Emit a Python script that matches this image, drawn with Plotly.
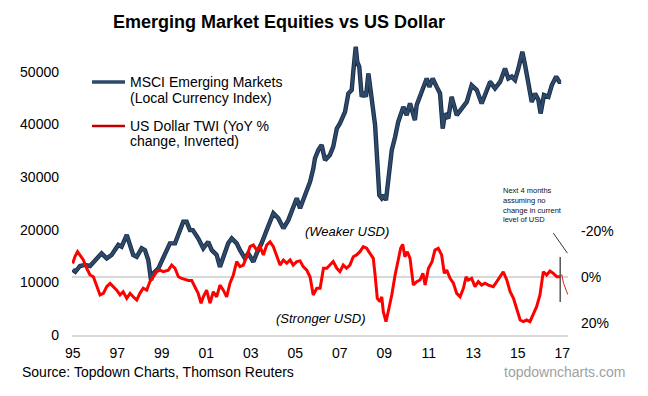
import plotly.graph_objects as go

# MSCI Emerging Markets (Local Currency Index) - decimal year, index level
em_years = [1995.00, 1995.12, 1995.33, 1995.55, 1995.78, 1996.00, 1996.30, 1996.53, 1996.75,
            1997.05, 1997.20, 1997.43, 1997.58, 1997.72, 1997.88, 1998.10, 1998.25, 1998.40,
            1998.52, 1998.62, 1998.85, 1999.15, 1999.37, 1999.60, 1999.82, 1999.97, 2000.12,
            2000.27, 2000.40, 2000.64, 2000.87, 2001.09, 2001.25, 2001.47, 2001.62, 2001.77,
            2001.99, 2002.15, 2002.37, 2002.52, 2002.74, 2002.89, 2003.12, 2003.27, 2003.49,
            2003.72, 2004.02, 2004.24, 2004.47, 2004.69, 2004.91, 2005.07, 2005.22, 2005.44,
            2005.67, 2005.81, 2005.89, 2006.04, 2006.19, 2006.34, 2006.56, 2006.71, 2006.87,
            2007.01, 2007.24, 2007.39, 2007.54, 2007.61, 2007.72, 2007.79, 2007.88, 2007.99,
            2008.09, 2008.18, 2008.29, 2008.36, 2008.48, 2008.59, 2008.69, 2008.78, 2008.89,
            2008.99, 2009.08, 2009.18, 2009.34, 2009.49, 2009.63, 2009.86, 2010.01, 2010.16,
            2010.38, 2010.46, 2010.69, 2010.91, 2011.03, 2011.18, 2011.36, 2011.51, 2011.63,
            2011.73, 2011.88, 2012.03, 2012.26, 2012.48, 2012.71, 2012.93, 2013.16, 2013.38,
            2013.61, 2013.76, 2013.98, 2014.21, 2014.43, 2014.58, 2014.73, 2014.88, 2015.03,
            2015.21, 2015.33, 2015.48, 2015.63, 2015.78, 2015.93, 2016.03, 2016.18, 2016.38,
            2016.53, 2016.73, 2016.87, 2016.95]
em_values = [12400, 12000, 13100, 13300, 13100, 14200, 15500, 14550, 15200,
             17100, 16750, 19000, 17100, 15200, 14850, 16450, 16100, 14200,
             10450, 11700, 12650, 15500, 17400, 17400, 19900, 21500, 21500,
             19900, 19900, 18350, 16450, 17700, 16100, 15200, 12950, 14850,
             17400, 18350, 17400, 16100, 14550, 15500, 13900, 15500, 17400,
             19900, 23100, 22150, 20250, 21800, 24050, 25950, 24050, 26550,
             29100, 31500, 33550, 35100, 36050, 33200, 34150, 35750, 39200,
             40150, 42350, 45850, 46500, 50000, 54700, 51850, 50900, 45200,
             46150, 45200, 49650, 47400, 43000, 39850, 32900, 26550, 25950,
             26550, 25600, 29750, 35100, 37600, 40450, 43300, 41750, 43950,
             40800, 43650, 46500, 48700, 47100, 48700, 47100, 45850, 39200,
             42050, 41100, 45200, 41750, 43000, 44250, 47400, 46500, 43950,
             46800, 48050, 46800, 48050, 50600, 48700, 49050, 48400, 50600,
             53750, 51250, 47400, 44250, 45850, 44600, 42050, 45550, 45200,
             47400, 49050, 48050, 48050]

# US Dollar TWI, YoY % change (plotted on an inverted axis)
usd_years = [1995.00, 1995.10, 1995.22, 1995.33, 1995.48, 1995.63, 1995.78, 1995.93, 1996.08,
             1996.23, 1996.38, 1996.53, 1996.68, 1996.82, 1996.98, 1997.13, 1997.27, 1997.43,
             1997.58, 1997.72, 1997.88, 1998.02, 1998.17, 1998.33, 1998.47, 1998.62, 1998.78,
             1998.92, 1999.07, 1999.30, 1999.45, 1999.60, 1999.75, 1999.90, 2000.05, 2000.20,
             2000.35, 2000.50, 2000.64, 2000.77, 2000.87, 2001.02, 2001.17, 2001.32, 2001.47,
             2001.62, 2001.77, 2001.92, 2002.07, 2002.22, 2002.37, 2002.52, 2002.67, 2002.82,
             2002.97, 2003.12, 2003.27, 2003.42, 2003.57, 2003.72, 2003.87, 2004.02, 2004.17,
             2004.32, 2004.47, 2004.62, 2004.77, 2004.91, 2005.07, 2005.22, 2005.36, 2005.52,
             2005.67, 2005.81, 2005.97, 2006.12, 2006.27, 2006.42, 2006.56, 2006.71, 2006.87,
             2007.01, 2007.16, 2007.31, 2007.46, 2007.61, 2007.76, 2007.91, 2008.06, 2008.21,
             2008.36, 2008.51, 2008.59, 2008.69, 2008.81, 2008.89, 2008.96, 2009.08, 2009.18,
             2009.34, 2009.49, 2009.63, 2009.74, 2009.83, 2009.93, 2010.04, 2010.16, 2010.31,
             2010.46, 2010.61, 2010.74, 2010.84, 2010.99, 2011.15, 2011.28, 2011.43, 2011.58,
             2011.70, 2011.81, 2011.96, 2012.11, 2012.26, 2012.41, 2012.56, 2012.68, 2012.78,
             2012.93, 2013.08, 2013.23, 2013.38, 2013.53, 2013.68, 2013.90, 2014.06, 2014.21,
             2014.35, 2014.51, 2014.66, 2014.81, 2014.96, 2015.11, 2015.25, 2015.40, 2015.55,
             2015.70, 2015.85, 2016.00, 2016.15, 2016.30, 2016.45, 2016.60, 2016.76, 2016.91]
usd_yoy = [-5.9, -8.8, -11.0, -9.6, -7.4, -3.8, -0.9, -0.1, 4.2,
           7.8, 7.1, 4.2, 2.8, 4.2, 5.7, 7.8, 6.4, 9.3,
           7.1, 8.6, 10.0, 7.1, 4.9, 5.7, 2.0, -0.1, -2.3,
           -3.0, -2.3, -3.0, -5.2, -3.8, -0.1, 0.6, 1.0, 1.5,
           1.5, 4.5, 7.1, 11.4, 8.6, 5.7, 11.4, 6.4, 8.6,
           3.5, 5.7, 8.6, 2.7, -0.9, -6.7, -4.5, -5.2, -8.8,
           -13.2, -13.9, -11.7, -13.2, -9.6, -13.9, -15.3, -13.2, -8.8,
           -5.2, -7.4, -6.0, -7.4, -5.2, -6.7, -7.0, -4.5, -3.0,
           0.0, 7.8, 4.9, 4.9, -3.8, -3.8, -5.2, -6.7, -3.8,
           -2.3, -5.2, -3.8, -5.2, -8.8, -9.6, -11.0, -13.2, -12.5,
           -10.3, -8.1, -0.9, 9.3, 10.7, 8.6, 15.1, 19.4, 15.1,
           7.8, -0.9, -7.5, -12.5, -14.2, -8.8, -11.0, -8.1, 3.5,
           2.0, 1.3, -1.6, 3.5, -3.8, -6.7, -11.7, -12.5, -9.6,
           -1.6, -3.0, 0.6, 2.7, 7.1, 8.6, 4.9, -0.1, 1.3,
           0.6, 4.2, 2.0, 3.5, 2.7, 3.5, 4.2, 2.0, -0.1,
           -2.3, 1.3, 6.4, 9.3, 13.6, 18.7, 19.4, 18.7, 19.4,
           16.5, 12.9, 7.8, -2.3, -0.9, -2.6, -1.6, -0.1, -0.1]

# Projection: next 4 months assuming no change in current USD level
proj_years = [2016.91, 2016.98, 2017.06, 2017.25]
proj_yoy = [-0.1, -1.0, 2.7, 7.6]

year_ticks = [1995, 1997, 1999, 2001, 2003, 2005, 2007, 2009, 2011, 2013, 2015, 2017]
year_labels = ['95', '97', '99', '01', '03', '05', '07', '09', '11', '13', '15', '17']
left_ticks = [0, 10000, 20000, 30000, 40000, 50000]
right_ticks = [-20, 0, 20]
right_labels = ['-20%', '0%', '20%']

FONT = 'Liberation Sans, Arial, sans-serif'
BLUE = '#2d4a6d'
BLUE_EDGE = '#1b2c43'
RED = '#ff0000'

# the page body adds an 8px offset; the layout compensates for it
OFF = 8

fig = go.Figure()
fig.add_trace(go.Scatter(x=em_years, y=em_values, mode='lines', yaxis='y',
                         line=dict(color=BLUE_EDGE, width=4.4), showlegend=False, hoverinfo='skip'))
fig.add_trace(go.Scatter(x=em_years, y=em_values, mode='lines', yaxis='y',
                         name='MSCI Emerging Markets (Local Currency Index)',
                         line=dict(color=BLUE, width=2.6), showlegend=False))
fig.add_trace(go.Scatter(x=usd_years, y=usd_yoy, mode='lines', yaxis='y2',
                         name='US Dollar TWI (YoY % change, Inverted)',
                         line=dict(color=RED, width=3), showlegend=False))
fig.add_trace(go.Scatter(x=proj_years, y=proj_yoy, mode='lines', yaxis='y2',
                         line=dict(color='#e02020', width=1), showlegend=False))

fig.update_layout(
    width=648, height=396,
    margin=dict(l=72 - OFF, r=80 + OFF, t=40 - OFF, b=61 + OFF),
    paper_bgcolor='white', plot_bgcolor='white',
    font=dict(family=FONT, size=14, color='#000000'),
    title=dict(text='<b>Emerging Market Equities vs US Dollar</b>', xref='container', yref='container',
               x=(279 - OFF) / 648, xanchor='center', y=1 - (22 - OFF) / 396, yanchor='middle',
               font=dict(family=FONT, size=18, color='#000000')),
    xaxis=dict(range=[1994.97, 2017.26], tickvals=year_ticks, ticktext=year_labels,
               showgrid=False, zeroline=False, showline=True, linecolor='#d9d9d9', linewidth=2,
               ticks='', ticklabelstandoff=4, tickfont=dict(size=14)),
    yaxis=dict(range=[0, 56000], tickvals=left_ticks, tickformat='d', showgrid=False, zeroline=False,
               showline=False, ticks='', ticklabelstandoff=12, tickfont=dict(size=14)),
    yaxis2=dict(range=[25.2, -103.0], overlaying='y', side='right', tickvals=right_ticks,
                ticktext=right_labels, showgrid=False, zeroline=True, zerolinecolor='#d9d9d9',
                zerolinewidth=2, showline=False, ticks='', ticklabelstandoff=12,
                tickfont=dict(size=14)),
)

# legend (drawn manually to match layout)
fig.add_shape(type='line', xref='paper', yref='paper', x0=0.0403, x1=0.1069, y0=0.8576, y1=0.8576,
              line=dict(color=BLUE, width=3.5))
fig.add_shape(type='line', xref='paper', yref='paper', x0=0.0403, x1=0.1069, y0=0.7085, y1=0.7085,
              line=dict(color='#c00000', width=2.5))
legend_lines = [('MSCI Emerging Markets', 0.8576), ('(Local Currency Index)', 0.8034),
                ('US Dollar TWI (YoY %', 0.7085), ('change, Inverted)', 0.6576)]
for txt, yy in legend_lines:
    fig.add_annotation(text=txt, xref='paper', yref='paper', x=0.1129, y=yy, xanchor='left',
                       yanchor='middle', showarrow=False, font=dict(size=14))

fig.add_annotation(text='<i>(Weaker USD)</i>', xref='paper', yref='paper', x=0.5544, y=0.3492,
                   xanchor='center', yanchor='middle', showarrow=False, font=dict(size=13))
fig.add_annotation(text='<i>(Stronger USD)</i>', xref='paper', yref='paper', x=0.5030, y=0.0576,
                   xanchor='center', yanchor='middle', showarrow=False, font=dict(size=13))
fig.add_annotation(text='Next 4 months<br>assuming no<br>change in current<br>level of USD',
                   xref='paper', yref='paper', x=0.8649, y=0.4390, xanchor='left', yanchor='middle',
                   align='left', showarrow=False, font=dict(size=7.5, color='#111111'))
fig.add_annotation(text='Source: Topdown Charts, Thomson Reuters', xref='paper', yref='paper',
                   x=-0.1048, y=-0.1254, xanchor='left', yanchor='middle', showarrow=False,
                   font=dict(size=14))
fig.add_annotation(text='topdowncharts.com', xref='paper', yref='paper', x=1.119, y=-0.1254,
                   xanchor='right', yanchor='middle', showarrow=False,
                   font=dict(size=14, color='#a0a0a0'))

# pointer line and projection separator
fig.add_shape(type='line', xref='x', yref='y2', x0=2016.60, x1=2017.23, y0=-19.1, y1=-10.4,
              line=dict(color='#333333', width=1))
fig.add_shape(type='line', xref='x', yref='y2', x0=2016.91, x1=2016.91, y0=-8.7, y1=10.9,
              line=dict(color='#555555', width=1.5))

fig.write_html('out.html')
